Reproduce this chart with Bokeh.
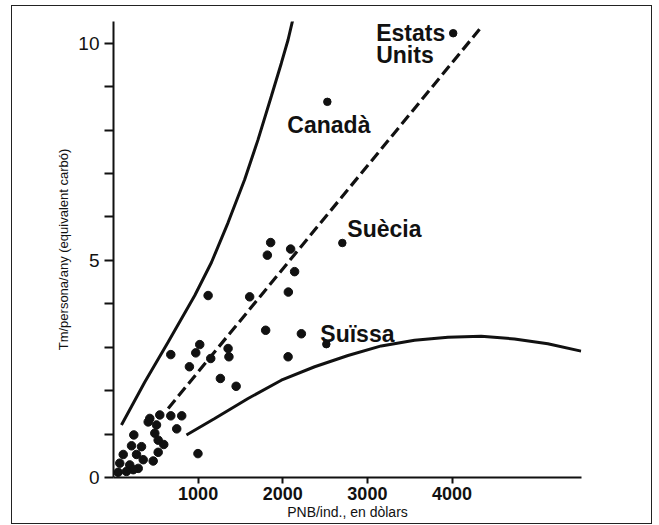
from bokeh.plotting import figure
from bokeh.models import ColumnDataSource, FixedTicker, Range1d
from bokeh.core.properties import value
from bokeh.embed import file_html
from bokeh.resources import INLINE

# ---------------- data ----------------
# GNP per inhabitant (US dollars) vs energy use (t coal equivalent / person / year)
countries = ["Estats Units", "Canadà", "Suècia", "Suïssa"]
country_gnp = [4014, 2527, 2704, 2515]
country_energy = [10.23, 8.65, 5.40, 3.07]

other_gnp = [1857, 1818, 2093, 2140, 2066, 1118, 1609, 1798, 2220, 2063,
             1019, 972, 677, 1149, 1354, 1364, 897, 1263, 1449, 998,
             429, 547, 677, 806, 747, 410, 508, 488, 528, 594,
             528, 469, 240, 213, 331, 115, 272, 351, 74, 192,
             292, 233, 153, 55]
other_energy = [5.41, 5.12, 5.26, 4.74, 4.27, 4.19, 4.16, 3.39, 3.31, 2.78,
                3.06, 2.87, 2.83, 2.74, 2.97, 2.78, 2.55, 2.28, 2.10, 0.55,
                1.36, 1.44, 1.42, 1.42, 1.12, 1.28, 1.21, 1.02, 0.86, 0.76,
                0.58, 0.38, 0.98, 0.73, 0.71, 0.53, 0.53, 0.41, 0.33, 0.29,
                0.21, 0.18, 0.14, 0.12]

# dashed trend line
trend_gnp = [646, 4325]
trend_energy = [1.59, 10.32]

# upper envelope curve
upper_gnp = [94, 370, 646, 960, 1157, 1354, 1550, 1708, 1865, 1983, 2063, 2122]
upper_energy = [1.21, 2.20, 3.12, 4.19, 4.95, 5.87, 6.86, 7.78, 8.78, 9.54, 10.08, 10.57]

# lower envelope curve
lower_gnp = [862, 1196, 1590, 1983, 2377, 2771, 3164, 3557, 3952, 4345, 4738, 5132, 5525]
lower_energy = [0.98, 1.36, 1.82, 2.24, 2.55, 2.81, 3.03, 3.16, 3.23, 3.25, 3.19, 3.08, 2.91]

x_ticks = [1000, 2000, 3000, 4000]
y_ticks = [0, 5, 10]
y_minor_ticks = [1, 2, 3, 4, 6, 7, 8, 9]

x_title = "PNB/ind., en dòlars"
y_title = "Tm/persona/any (equivalent carbó)"

# label lines attached to each labelled country (index into countries)
label_text = ["Estats", "Units", "Canadà", "Suècia", "Suïssa"]
label_country = [0, 0, 1, 2, 3]

# ---------------- styling ----------------
INK = "#111111"
label_dx = [-77, -77, -40, 5, -6]
label_dy = [0, 22, 23, -14, -10]

p = figure(width=641, height=519,
           x_range=Range1d(0, 5530), y_range=Range1d(0, 10.5),
           output_backend="svg", toolbar_location=None,
           min_border_left=101, min_border_right=72,
           min_border_top=15, min_border_bottom=48)
p.styles = {"margin-left": "11px", "margin-top": "5px",
            "border": "1px solid #222222"}
p.outline_line_color = None
p.xgrid.visible = False
p.ygrid.visible = False
p.background_fill_color = "white"
p.border_fill_color = "white"

# axes
p.xaxis.ticker = FixedTicker(ticks=x_ticks)
p.yaxis.ticker = FixedTicker(ticks=y_ticks, minor_ticks=y_minor_ticks)
for ax in (p.xaxis[0], p.yaxis[0]):
    ax.axis_line_color = INK
    ax.axis_line_width = 2
    ax.major_tick_line_color = INK
    ax.major_tick_line_width = 2
    ax.major_tick_in = 0
    ax.minor_tick_in = 0
    ax.major_label_text_color = INK
    ax.major_label_text_font = "Liberation Sans"
    ax.axis_label_text_color = INK
    ax.axis_label_text_font = "Liberation Sans"
    ax.axis_label_text_font_style = "normal"

p.xaxis.major_tick_out = 6
p.xaxis.minor_tick_line_color = None
p.xaxis.major_label_text_font_size = "18px"
p.xaxis.major_label_text_font_style = "bold"
p.xaxis.major_label_standoff = 3
p.xaxis.axis_label = x_title
p.xaxis.axis_label_text_font_size = "14px"
p.xaxis.axis_label_standoff = 1

p.yaxis.major_tick_out = 9
p.yaxis.minor_tick_out = 9
p.yaxis.minor_tick_line_color = INK
p.yaxis.minor_tick_line_width = 2
p.yaxis.major_label_text_font_size = "19px"
p.yaxis.major_label_standoff = 5
p.yaxis.axis_label = y_title
p.yaxis.axis_label_text_font_size = "13px"
p.yaxis.axis_label_standoff = 4

# curves
p.line(upper_gnp, upper_energy, line_color=INK, line_width=3)
p.line(lower_gnp, lower_energy, line_color=INK, line_width=3)
p.line(trend_gnp, trend_energy, line_color=INK, line_width=3.2, line_dash="11 5")

# points
p.scatter(other_gnp, other_energy, size=8.5, color=INK)
p.scatter(country_gnp, country_energy, size=7.5, color=INK)

# country labels
lab = ColumnDataSource(dict(
    x=[country_gnp[i] for i in label_country],
    y=[country_energy[i] for i in label_country],
    text=label_text, dx=label_dx, dy=label_dy))
p.text("x", "y", text="text", source=lab, x_offset="dx", y_offset="dy",
       text_font=value("Liberation Sans"), text_font_style="bold",
       text_font_size="23px", text_color=INK,
       text_align="left", text_baseline="alphabetic")

open("out.html", "w").write(file_html(p, INLINE))
